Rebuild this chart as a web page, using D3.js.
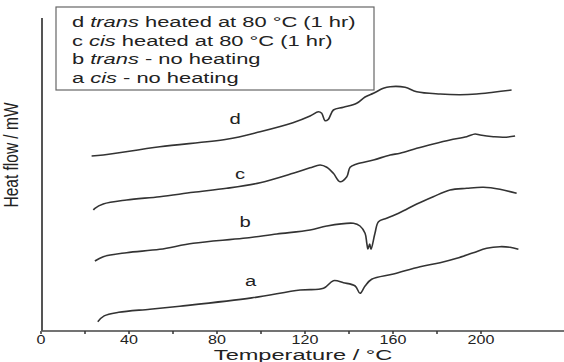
<!DOCTYPE html>
<html><head><meta charset="utf-8">
<script src="https://cdn.jsdelivr.net/npm/d3@7"></script>
<style>body{margin:0;background:#fff}svg{display:block}text{font-family:"Liberation Sans",Arial,sans-serif;fill:#222}</style>
</head><body><svg id="chart" width="564" height="362"></svg>
<script>
// ---- data (heat flow in arbitrary units, curves offset for display) ----
const xTickValues = [0,20,40,60,80,100,120,140,160,180,200];
const xTickLabels = ["0","","40","","80","","120","","160","","200"];

const tempA = [25.8,28.7,35.3,49.5,63.1,95.8,117.8,128.4,132.9,137.5,142.8,145.0,147.3,150.3,160.2,172.3,181.4,189.0,196.5,202.6,208.6,213.2,217.0];
const heatA = [8.3,14.1,17.7,20.8,23.8,32.1,40,41.7,49.3,47.3,44,36.7,44,50.7,56,63.3,67.3,71.7,77.3,81.7,83.3,82.7,80.7];

const tempB = [24.5,28.3,38.9,54.0,69.2,91.9,107.2,122.3,129.9,142.0,145.0,147.3,148.1,148.6,149.4,150.0,151.8,153.4,157.1,163.2,170.8,178.3,185.9,193.5,201.1,208.6,216.2];
const heatB = [69,73.3,77.3,80.7,86.7,91.7,96,100,104,106.7,104,96.7,86.7,81,86,80.7,96.7,108.3,111.7,117.5,126,133.3,140,141.7,142.7,140.7,136.7];

const tempC = [23.8,24.5,28.3,38.9,54.0,69.2,84.4,99.6,114.6,122.3,126.9,129.9,132.9,135.9,139.0,140.5,143.5,151.1,158.7,163.2,170.8,178.3,185.9,193.5,197.3,199.6,205.6,210.2,215.5];
const heatC = [120,121.7,126,130,133.3,137.7,141.7,147.3,156.7,162.2,165,162.7,156.7,148.3,153.3,162.7,166,170,175,176.7,181.7,186,190,193.3,196,195,193.3,192.7,194];

const tempD = [23.0,28.3,54.0,84.4,99.6,114.5,122.3,126.1,127.6,129.1,130.6,132.9,137.5,143.5,147.3,151.1,155.6,158.7,165.5,170.8,181.4,190.5,198.0,205.6,213.9];
const heatD = [174,175,183.3,190.7,198.3,207.3,214,218.3,216.7,209.3,210.7,220,222.7,226.7,233,236.7,241.7,243.3,242.7,238.3,236,235.3,236,237.8,240];

const curveLetters = ["a","b","c","d"];
const letterTemp = [95.3,92.8,90.5,88.2];
const letterHeat = [44,103,151,206];

const legendRows = [
  ["d ","trans"," heated at 80 °C (1 hr)"],
  ["c ","cis"," heated at 80 °C (1 hr)"],
  ["b ","trans"," - no heating"],
  ["a ","cis"," - no heating"]
];
const xTitle = "Temperature / °C";
const yTitle = "Heat flow / mW";

// ---- drawing ----
const svg = d3.select("#chart");
const x = d3.scaleLinear().domain([0,200]).range([41,481]);
const y = d3.scaleLinear().domain([0,312]).range([330,18]);

// axes
svg.append("line").attr("x1",42).attr("x2",564).attr("y1",331).attr("y2",331)
  .attr("stroke","#444").attr("stroke-width",1.6);
svg.append("line").attr("x1",42).attr("x2",42).attr("y1",18).attr("y2",331)
  .attr("stroke","#555").attr("stroke-width",2);
xTickValues.forEach((t,i)=>{
  svg.append("line").attr("x1",x(t)).attr("x2",x(t)).attr("y1",331).attr("y2",334)
    .attr("stroke","#333").attr("stroke-width",1.5);
  if (xTickLabels[i]) {
    svg.append("text").attr("transform",`translate(${x(t)},343.5) scale(1.34,1)`)
      .attr("text-anchor","middle").attr("font-size",12).text(xTickLabels[i]);
  }
});
svg.append("text").attr("transform","translate(303,359.5) scale(1.52,1)")
  .attr("text-anchor","middle").attr("font-size",15.5).text(xTitle);
svg.append("text").attr("transform","translate(18,155) scale(1.3,1) rotate(-90)")
  .attr("text-anchor","middle").attr("font-size",15.5).text(yTitle);

// curves
const line = d3.line().x(d=>x(d[0])).y(d=>y(d[1])).curve(d3.curveCatmullRom.alpha(0.5));
[[tempA,heatA],[tempB,heatB],[tempC,heatC],[tempD,heatD]].forEach(([ts,hs])=>{
  svg.append("path").attr("d",line(ts.map((t,i)=>[t,hs[i]])))
    .attr("fill","none").attr("stroke","#333").attr("stroke-width",1.6);
});
curveLetters.forEach((l,i)=>{
  svg.append("text").attr("transform",`translate(${x(letterTemp[i])},${y(letterHeat[i])}) scale(1.35,1)`)
    .attr("text-anchor","middle").attr("font-size",15).text(l);
});

// legend
svg.append("rect").attr("x",56).attr("y",7).attr("width",318).attr("height",83)
  .attr("fill","#fff").attr("stroke","#666").attr("stroke-width",1.2);
const rowY = [27,45.5,64,82.5];
legendRows.forEach((r,i)=>{
  const t = svg.append("text").attr("transform",`translate(72,${rowY[i]}) scale(1.46,1)`)
    .attr("font-size",15);
  t.append("tspan").text(r[0]);
  t.append("tspan").attr("font-style","italic").text(r[1]);
  t.append("tspan").text(r[2]);
});
</script></body></html>
